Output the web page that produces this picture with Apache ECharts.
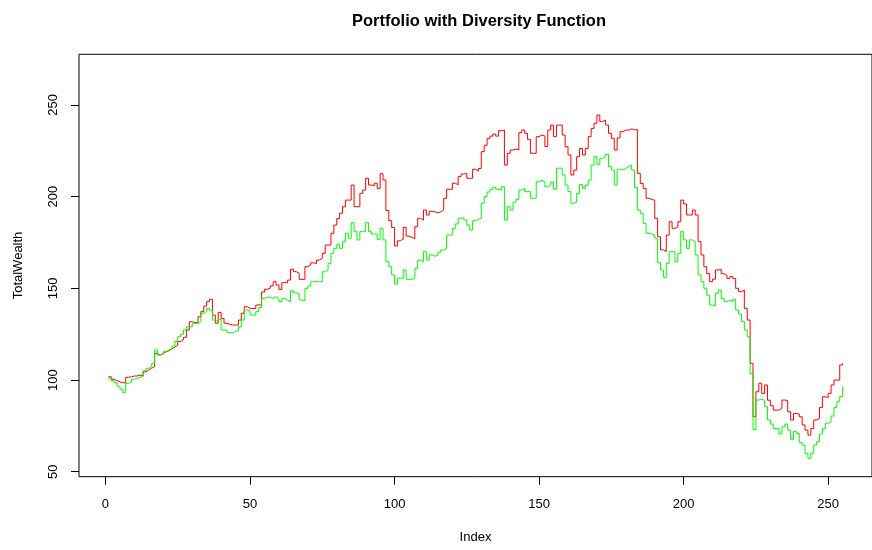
<!DOCTYPE html>
<html>
<head>
<meta charset="utf-8">
<title>Portfolio with Diversity Function</title>
<script src="https://cdn.jsdelivr.net/npm/echarts@6/dist/echarts.min.js"></script>
<style>
  html, body { margin: 0; padding: 0; background: #ffffff; }
  #chart { width: 872px; height: 550px; }
</style>
</head>
<body>
<div id="chart"></div>
<script>
// Total wealth of the diversity-weighted portfolio (red), one value per index 1..255
const redWealth = [
  101.8, 100.4, 99.6, 99, 98.5, 98.5, 101.5, 101.8, 102.2, 102.2,
  102.7, 102.2, 104.5, 105.5, 106.5, 107.3, 114.5, 113.6, 114.5, 115.5,
  116, 117, 118, 119, 121, 122, 123.3, 127.3, 131.8, 131.3,
  131.3, 134.5, 137.3, 140.3, 142.7, 144, 135.4, 131, 136.9, 133.6,
  131, 130.4, 130, 130, 130, 132.7, 136.4, 140, 139.1, 139,
  139, 140.9, 141, 148, 149.5, 150, 151.3, 153.6, 151.8, 149.4,
  153.1, 153.1, 154.5, 160.4, 159.1, 158.2, 154.9, 154.9, 161.8, 162.7,
  163.9, 163.5, 165.4, 166.4, 169.1, 173.6, 173.6, 180, 184.5, 188,
  191, 194.5, 198.1, 198.1, 206.3, 194.5, 194.5, 201.8, 203.6, 210,
  206.3, 206, 207.3, 204.5, 212.5, 209.1, 192.4, 186.9, 183.2, 173.1,
  175.9, 176.9, 183.2, 178.5, 177.8, 177, 183.6, 188.2, 187.2, 192.7,
  190, 192, 191.7, 191.2, 191.7, 192.7, 199.1, 204, 204, 207.3,
  206.5, 210.9, 212.3, 212.7, 210, 210, 214.9, 214, 215.4, 224.5,
  228, 231.8, 233, 234.1, 233, 236, 236.3, 217.2, 223.6, 225.4,
  226, 225.4, 234.9, 236.3, 234.5, 231.2, 223.6, 223.6, 232.7, 233.6,
  233, 227.3, 236.3, 239, 232.7, 239, 239, 233.6, 227.2, 222.7,
  211.8, 214.5, 221.8, 226.3, 222.7, 226.3, 232.7, 237.2, 240, 244.5,
  240.9, 241.8, 239, 234.5, 231.8, 225.4, 232, 235.4, 236.3, 236.3,
  236.9, 236.5, 236.5, 212.7, 207.2, 204.5, 199.1, 198.5, 198, 188.2,
  178.1, 171, 170, 179, 186.3, 182.7, 183.5, 186.3, 198.1, 196,
  190, 190, 192.7, 190, 175.4, 168.2, 161.8, 158, 153.6, 155,
  160, 160.3, 158, 157, 155.4, 156.5, 155.4, 150, 148.2, 149.1,
  139.1, 132.7, 109.1, 80, 93.6, 98.2, 92.7, 97.3, 89, 86,
  83.6, 83.6, 84.5, 89.1, 88.8, 82.7, 78.2, 81.8, 81.5, 80,
  75.5, 72.7, 70, 73.6, 78.2, 79.1, 85, 90.9, 90.5, 92.7,
  97.3, 100, 100, 108.2, 109.1
];

// Total wealth of the comparison portfolio (green), same indices
const greenWealth = [
  100.9, 99.6, 98.5, 96.7, 95, 93.1, 98.2, 99, 100.4, 100.9,
  101.5, 102, 105, 106.4, 107.3, 109.1, 116.4, 113.6, 114, 115.5,
  116.5, 117, 118.5, 121, 123.6, 125, 127.3, 129.1, 129.1, 130.9,
  130.9, 131.8, 136.4, 137.3, 139.1, 138, 132.7, 131.8, 133.1, 127.3,
  127.3, 125.8, 125.8, 126.4, 127, 129.1, 132.7, 138.2, 137.6, 135.4,
  135.4, 137.3, 139.5, 144.5, 145.1, 145.1, 144.5, 145.4, 144.5, 142.7,
  144.5, 143.6, 142.7, 148.7, 147.5, 147, 143.6, 143.3, 150, 151.3,
  153.6, 153.8, 153.6, 153.6, 159, 160, 163.6, 169.1, 171.8, 174,
  171.8, 175.4, 180, 177.3, 185.8, 180.9, 176.4, 180.9, 180.9, 185.8,
  180.9, 179.6, 179.6, 176.7, 182.7, 176.4, 164.5, 161.8, 157.3, 152.3,
  155.5, 155.5, 160, 154.9, 154.9, 155.5, 160.9, 165.4, 164.5, 170,
  165.4, 168.2, 167.5, 168.2, 169.7, 170.9, 171.5, 179.1, 179.1, 182.7,
  185.1, 188.2, 188.5, 187.2, 184.5, 181.8, 186.9, 187.5, 188.2, 196.4,
  200, 202.5, 204, 205.1, 204, 203.6, 205.4, 187.2, 194.5, 192.7,
  197, 198.5, 203.6, 204.5, 202.7, 202.7, 199.1, 199.1, 208.1, 209,
  208, 205.4, 206.3, 208, 204, 215.5, 215.5, 211.8, 206.3, 202.7,
  196.4, 197, 201.8, 206.7, 204.5, 206.3, 209, 217.2, 221.8, 217.6,
  220.9, 221.8, 223.1, 216.3, 214.5, 206.3, 215, 214.5, 215.4, 216.3,
  217.2, 214.5, 205, 192.7, 190.9, 185.4, 180, 179.6, 179.1, 177.3,
  164, 160, 156, 163.6, 170, 170, 164.5, 169.1, 180.9, 176.4,
  171.8, 176.4, 175.5, 168.2, 157.3, 153.6, 150, 146.3, 140.9, 140.5,
  147.3, 149.1, 144.5, 142.7, 143.5, 142.7, 144, 138.2, 136, 132,
  127.3, 123.6, 103.6, 73, 89.1, 89.5, 89, 85.5, 78.2, 76,
  73.6, 73.6, 70.6, 74.5, 76, 72.7, 67.7, 72, 70.9, 66,
  64.6, 60, 57.3, 60, 64.6, 66.4, 70.6, 73.5, 76.4, 77.3,
  80.4, 85, 88.2, 91, 96.4
];

// Axis tick positions
const xTicks = [0, 50, 100, 150, 200, 250];
const yTicks = [50, 100, 150, 200, 250];

// Axis extents (data range padded by 4% on each side)
const xMin = -9.16, xMax = 265.16;
const yMin = 47.3, yMax = 277.6;

const toPairs = (vals) => vals.map((v, k) => [k + 1, v]);

const FONT = "'Liberation Sans', Arial, Helvetica, sans-serif";
const LABEL_SIZE = 13;

const chart = echarts.init(document.getElementById('chart'), null, { renderer: 'canvas' });

chart.setOption({
  animation: false,
  backgroundColor: '#ffffff',
  title: {
    text: 'Portfolio with Diversity Function',
    left: 474,
    top: 8,
    textAlign: 'center',
    textStyle: { fontFamily: FONT, fontSize: 16.5, fontWeight: 'bold', color: '#000' }
  },
  grid: {
    left: 79,
    right: -7,
    top: 54.3,
    bottom: 73.3,
    show: true,
    borderColor: '#000',
    borderWidth: 1,
    backgroundColor: 'transparent'
  },
  xAxis: {
    type: 'value',
    min: xMin,
    max: xMax,
    name: 'Index',
    nameLocation: 'middle',
    nameGap: 54,
    nameTextStyle: { fontFamily: FONT, fontSize: LABEL_SIZE, color: '#000' },
    axisLine: { show: false, onZero: false },
    splitLine: { show: false },
    axisTick: {
      show: true, inside: false, length: 8,
      customValues: xTicks,
      lineStyle: { color: '#000', width: 1 }
    },
    axisLabel: {
      customValues: xTicks,
      margin: 21,
      fontFamily: FONT, fontSize: LABEL_SIZE, color: '#000'
    }
  },
  yAxis: {
    type: 'value',
    min: yMin,
    max: yMax,
    name: 'TotalWealth',
    nameLocation: 'middle',
    nameRotate: 90,
    nameGap: 54,
    nameTextStyle: { fontFamily: FONT, fontSize: LABEL_SIZE, color: '#000' },
    axisLine: { show: false, onZero: false },
    splitLine: { show: false },
    axisTick: {
      show: true, inside: false, length: 8,
      customValues: yTicks,
      lineStyle: { color: '#000', width: 1 }
    },
    axisLabel: {
      customValues: yTicks,
      rotate: 90,
      margin: 19,
      fontFamily: FONT, fontSize: LABEL_SIZE, color: '#000'
    }
  },
  series: [
    {
      name: 'Diversity',
      type: 'line',
      step: 'end',
      showSymbol: false,
      symbol: 'none',
      silent: true,
      lineStyle: { color: '#ff0000', width: 1 },
      data: toPairs(redWealth),
      z: 2
    },
    {
      name: 'Comparison',
      type: 'line',
      step: 'end',
      showSymbol: false,
      symbol: 'none',
      silent: true,
      lineStyle: { color: '#00ff00', width: 1 },
      data: toPairs(greenWealth),
      z: 3
    }
  ]
});
</script>
</body>
</html>
